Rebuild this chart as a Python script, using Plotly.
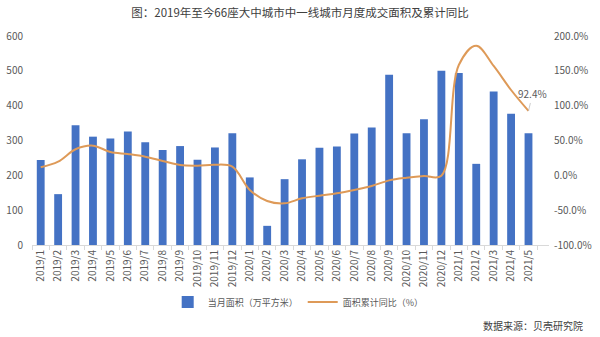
import plotly.graph_objects as go

categories = ["2019/1", "2019/2", "2019/3", "2019/4", "2019/5", "2019/6", "2019/7", "2019/8",
              "2019/9", "2019/10", "2019/11", "2019/12", "2020/1", "2020/2", "2020/3", "2020/4",
              "2020/5", "2020/6", "2020/7", "2020/8", "2020/9", "2020/10", "2020/11", "2020/12",
              "2021/1", "2021/2", "2021/3", "2021/4", "2021/5"]
monthly_area = [244, 146, 344, 311, 306, 326, 295, 273, 284, 245, 280, 321, 194, 55, 189,
                246, 279, 283, 320, 337, 489, 321, 361, 500, 494, 233, 441, 377, 321]
cum_yoy = [11.5, 19.6, 37.4, 42.6, 33.5, 30.6, 26.8, 20.6, 14.8, 13.9, 15.3, 12.4, -21.0, -36.8,
           -40.2, -33.0, -29.2, -25.8, -21.0, -15.3, -7.2, -3.4, -1.0, -0.5, 158.4, 186.0,
           157.0, 122.5, 92.4]
left_ticks = [0, 100, 200, 300, 400, 500, 600]
right_ticks = [-100, -50, 0, 50, 100, 150, 200]

FONT = "Noto Sans CJK SC, Noto Sans, sans-serif"
GRAY = "#595959"
BAR = "#4472C4"
LINE = "#DE9A58"

fig = go.Figure()
fig.add_trace(go.Bar(x=categories, y=monthly_area, name="当月面积（万平方米）",
                     marker=dict(color=BAR, line=dict(width=0)), yaxis="y"))
fig.add_trace(go.Scatter(x=categories, y=cum_yoy, name="面积累计同比（%）", mode="lines",
                         line=dict(color=LINE, width=2, shape="spline", smoothing=1.0),
                         yaxis="y2"))

fig.add_annotation(x=categories[-1], y=cum_yoy[-1], yref="y2", text=f"{cum_yoy[-1]:.1f}%",
                   showarrow=True, arrowhead=0, arrowwidth=0.8, arrowcolor="#bfbfbf",
                   ax=4, ay=-17, standoff=0, font=dict(family=FONT, size=10, color=GRAY))
fig.add_annotation(xref="paper", yref="paper", x=(585 - 32) / 517, y=(245 - 325) / 209,
                   xanchor="right", yanchor="middle",
                   text="数据来源：贝壳研究院", showarrow=False,
                   font=dict(family=FONT, size=10, color="#404040"))

fig.update_layout(
    width=600, height=337,
    margin=dict(l=32, r=51, t=36, b=92, autoexpand=False),
    paper_bgcolor="white", plot_bgcolor="white",
    title=dict(text="图：2019年至今66座大中城市中一线城市月度成交面积及累计同比",
               x=0.5, xref="container", xanchor="center", y=1 - 13 / 337, yref="container",
               yanchor="middle", font=dict(family=FONT, size=11.5, color="#404040")),
    bargap=0.55,
    showlegend=True,
    legend=dict(orientation="h", x=0.497, xref="container", xanchor="center",
                y=1 - 302 / 337, yref="container", yanchor="middle",
                font=dict(family=FONT, size=9, color=GRAY), itemwidth=30,
                bgcolor="rgba(0,0,0,0)"),
    xaxis=dict(type="category", tickangle=-90, tickfont=dict(family=FONT, size=10, color=GRAY),
               showline=True, linecolor="#d9d9d9", linewidth=1, ticks="outside", ticklen=4,
               tickcolor="#d9d9d9", tickson="boundaries", showgrid=False, zeroline=False,
               automargin=False),
    yaxis=dict(range=[0, 600], tickvals=left_ticks, showgrid=False, zeroline=False,
               tickfont=dict(family=FONT, size=10, color=GRAY), ticks="", ticklabelstandoff=8,
               automargin=False),
    yaxis2=dict(range=[-100, 200], tickvals=right_ticks, overlaying="y", side="right",
                ticktext=[f"{v:.1f}%" for v in right_ticks], tickmode="array",
                showgrid=False, zeroline=False, ticks="", ticklabelstandoff=4,
                tickfont=dict(family=FONT, size=10, color=GRAY), automargin=False),
)

fig.write_html("out.html")
